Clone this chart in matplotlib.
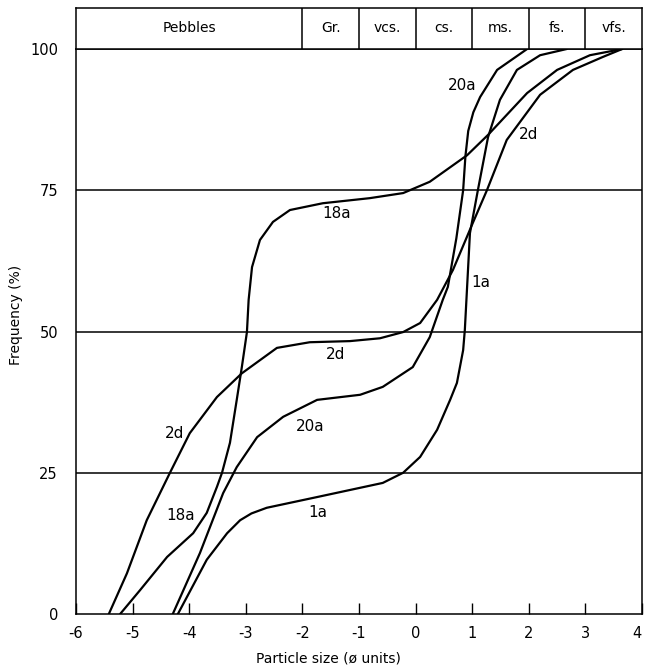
import matplotlib
matplotlib.use("Agg")
import matplotlib.pyplot as plt

plt.rcParams['font.family'] = ['DejaVu Sans']

# ---- data (phi units, cumulative frequency %) ----
x_1a = [-4.20, -3.69, -3.33, -3.10, -2.90, -2.63, -1.74, -0.58, -0.22, 0.08, 0.38, 0.61, 0.73, 0.84, 0.87, 0.96, 1.10, 1.28, 1.49, 1.79, 2.20, 2.67]
y_1a = [0, 9.6, 14.3, 16.6, 17.8, 18.8, 20.7, 23.2, 25.0, 27.8, 32.6, 37.9, 40.9, 46.7, 50.3, 67.4, 75.0, 84.4, 91.0, 96.3, 98.9, 100]

x_20a = [-4.29, -3.81, -3.40, -3.16, -2.80, -2.34, -1.74, -0.98, -0.58, -0.05, 0.25, 0.48, 0.57, 0.72, 0.84, 0.88, 0.93, 1.02, 1.14, 1.44, 1.97]
y_20a = [0, 10.8, 21.4, 26.0, 31.3, 34.9, 37.9, 38.8, 40.2, 43.7, 49.0, 55.6, 57.9, 66.5, 75.0, 81.0, 85.5, 88.8, 91.5, 96.3, 100]

x_2d = [-5.42, -5.10, -4.75, -4.34, -3.99, -3.51, -3.07, -2.45, -1.87, -1.16, -0.63, -0.22, 0.08, 0.38, 0.66, 1.01, 1.26, 1.61, 2.20, 2.78, 3.31, 3.65]
y_2d = [0, 7.2, 16.6, 25.0, 32.0, 38.4, 42.6, 47.1, 48.1, 48.3, 48.8, 49.9, 51.5, 55.6, 60.9, 69.2, 75.0, 83.9, 91.9, 96.3, 98.6, 100]

x_18a = [-5.22, -4.87, -4.39, -3.93, -3.69, -3.51, -3.42, -3.28, -3.16, -3.07, -2.98, -2.95, -2.89, -2.75, -2.52, -2.22, -1.64, -0.81, -0.22, 0.25, 0.91, 1.28, 1.97, 2.50, 3.08, 3.65]
y_18a = [0, 4.2, 10.1, 14.3, 17.9, 22.5, 25.0, 30.3, 37.9, 43.7, 49.9, 55.6, 61.4, 66.2, 69.4, 71.5, 72.7, 73.6, 74.5, 76.5, 81.2, 84.8, 92.2, 96.3, 98.9, 100]

# curve labels: (text, x, y)
curve_labels = [
    ("18a", -1.39, 70.8), ("2d", 2.00, 84.8), ("20a", 0.82, 93.5), ("1a", 1.16, 58.6),
    ("2d", -4.25, 31.9), ("2d", -1.41, 46.0), ("20a", -1.87, 33.1),
    ("18a", -4.15, 17.5), ("1a", -1.72, 18.0),
]

# grain size classes (header)
class_names = ["Pebbles", "Gr.", "vcs.", "cs.", "ms.", "fs.", "vfs."]
class_edges = [-6, -2, -1, 0, 1, 2, 3, 4]

x_ticks = [-6, -5, -4, -3, -2, -1, 0, 1, 2, 3, 4]
y_ticks = [0, 25, 50, 75, 100]

# ---- figure ----
W, H = 645, 668
fig = plt.figure(figsize=(W / 100, H / 100), dpi=100)
L, R, B, T = 76 / W, 642 / W, 1 - 614 / H, 1 - 49 / H
ax = fig.add_axes([L, B, R - L, T - B])

lw = 1.6
for xs, ys in [(x_1a, y_1a), (x_20a, y_20a), (x_2d, y_2d), (x_18a, y_18a)]:
    ax.plot(xs, ys, color="black", lw=lw, solid_joinstyle="round", solid_capstyle="round")

for yv in [25, 50, 75]:
    ax.axhline(yv, color="black", lw=1.1)

for txt, xv, yv in curve_labels:
    ax.text(xv, yv, txt, ha="center", va="center", fontsize=11, color="black")

ax.set_xlim(-6, 4)
ax.set_ylim(0, 100)
ax.set_xticks(x_ticks)
ax.set_xticklabels([str(v) for v in x_ticks])
ax.get_xticklabels()[-1].set_horizontalalignment("right")
ax.set_yticks(y_ticks)
ax.set_yticklabels([str(v) for v in y_ticks])
ax.tick_params(axis="x", direction="in", length=8, width=1, labelsize=10.5, pad=9)
ax.tick_params(axis="y", length=0, labelsize=10.5, pad=13)
for s in ax.spines.values():
    s.set_linewidth(1.1)

fig.text(328 / W, 1 - 658 / H, "Particle size (ø units)", ha="center", va="center", fontsize=10)
fig.text(16 / W, 1 - 315 / H, "Frequency (%)", ha="center", va="center", rotation=90, fontsize=10)

# header box
hax = fig.add_axes([L, T, R - L, (49 - 8) / H])
hax.set_xlim(-6, 4)
hax.set_ylim(0, 1)
hax.set_xticks([])
hax.set_yticks([])
for s in hax.spines.values():
    s.set_linewidth(1.1)
for e in class_edges[1:-1]:
    hax.axvline(e, color="black", lw=1.1)
for i, name in enumerate(class_names):
    xc = (class_edges[i] + class_edges[i + 1]) / 2
    hax.text(xc, 0.52, name, ha="center", va="center", fontsize=10)

fig.savefig("out.png", dpi=100)
